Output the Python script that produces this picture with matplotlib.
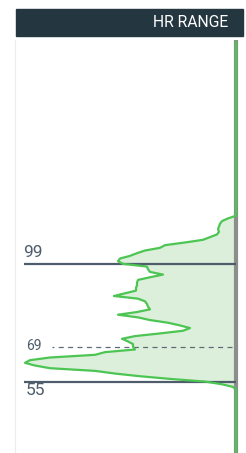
import numpy as np
import matplotlib.pyplot as plt
from matplotlib.patches import Rectangle

plt.rcParams['font.family'] = ['Roboto', 'DejaVu Sans']

# heart rate bins (bpm) and time spent in each bin (relative)
hr = np.arange(117, 51, -1)
time_in_bin = [0, 8, 14, 16, 17, 18, 17, 19, 26, 33, 51, 71, 76, 91, 99, 106,
               116, 118, 113, 89, 88, 86, 73, 86, 98, 99, 99, 100, 100, 111,
               122, 98, 91, 89, 88, 86, 99, 118, 98, 86, 68, 56, 46, 53, 76,
               101, 114, 108, 103, 103, 101, 131, 141, 186, 206, 211, 201,
               186, 141, 121, 96, 66, 31, 14, 3, 0]
hr_low = 55
hr_high = 99
avg_hr = 68.1
avg_label = "69"
title = "HR RANGE"

green = '#4cc552'
slate = '#4e5c6b'

fig = plt.figure(figsize=(2.46, 4.53), dpi=100)

# header bar
fig.patches.append(Rectangle((16 / 246, 1 - 36 / 453), 227 / 246, 27 / 453,
                             transform=fig.transFigure, color='#243740', zorder=0))
fig.text(228 / 246, 1 - 22.5 / 453, title, color='white', fontsize=11.3,
         ha='right', va='center')

ax = fig.add_axes([15 / 246, 0, 227 / 246, 413 / 453])
ax.set_xlim(221, -6)
ax.set_ylim(28.3, 182.7)
ax.set_xticks([])
ax.set_yticks([])
for s in ['top', 'right', 'bottom']:
    ax.spines[s].set_visible(False)
ax.spines['left'].set_color('#ececec')
ax.spines['left'].set_linewidth(0.8)

y0, y1 = ax.get_ylim()
line_y = np.concatenate([[y1 - 0.8], hr, [y0]])
line_x = np.concatenate([[0], time_in_bin, [0]])

ax.axvline(0, ymax=(y1 - 0.8 - y0) / (y1 - y0), color='#8a8f8c', lw=3, zorder=1)
ax.fill_betweenx(hr, 0, time_in_bin, color='#dcefda', lw=0, zorder=0)
ax.plot(line_x, line_y, color=green, lw=1.6, zorder=3)

ax.hlines([hr_high, hr_low], 0, 212, color=slate, lw=1.6, zorder=2)
ax.hlines(avg_hr, 4, 184, color='#5f6a76', lw=0.9, linestyles=(0, (4, 3.5)), zorder=2)

ax.annotate(str(hr_high), xy=(213, hr_high), xytext=(0, 3), textcoords='offset points',
            ha='left', va='bottom', fontsize=12.5, color=slate)
ax.annotate(str(hr_low), xy=(210, hr_low), xytext=(0, -1), textcoords='offset points',
            ha='left', va='top', fontsize=12.5, color=slate)
ax.annotate(avg_label, xy=(210, avg_hr), xytext=(0, 0.5), textcoords='offset points',
            ha='left', va='center', fontsize=10, color=slate)

fig.savefig('out.png', dpi=100)
